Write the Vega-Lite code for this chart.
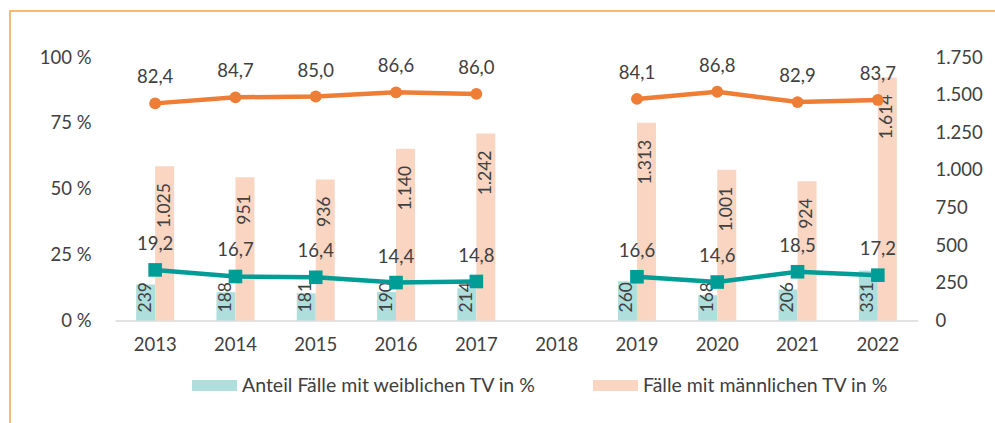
{
  "$schema": "https://vega.github.io/schema/vega-lite/v6.json",
  "width": 990,
  "height": 420,
  "autosize": {"type": "none"},
  "padding": {"left": 10, "top": 11, "right": 0, "bottom": 0},
  "background": "white",
  "config": {
    "locale": {"number": {"decimal": ",", "thousands": ".", "grouping": [3], "currency": ["", " €"]}},
    "view": {"stroke": "#F5A447", "strokeWidth": 1.5},
    "font": "Lato",
    "axis": {"labelFont": "Lato", "labelFontSize": 18.5, "labelColor": "#404040", "grid": false, "ticks": false, "tickSize": 0, "title": null, "domain": false},
    "text": {"font": "Lato", "fontSize": 18, "fill": "#404040"}
  },
  "datasets": {
    "counts": [
      {"year": "2013", "series": "Anteil Fälle mit weiblichen TV in %", "count": 239},
      {"year": "2014", "series": "Anteil Fälle mit weiblichen TV in %", "count": 188},
      {"year": "2015", "series": "Anteil Fälle mit weiblichen TV in %", "count": 181},
      {"year": "2016", "series": "Anteil Fälle mit weiblichen TV in %", "count": 190},
      {"year": "2017", "series": "Anteil Fälle mit weiblichen TV in %", "count": 214},
      {"year": "2019", "series": "Anteil Fälle mit weiblichen TV in %", "count": 260},
      {"year": "2020", "series": "Anteil Fälle mit weiblichen TV in %", "count": 168},
      {"year": "2021", "series": "Anteil Fälle mit weiblichen TV in %", "count": 206},
      {"year": "2022", "series": "Anteil Fälle mit weiblichen TV in %", "count": 331},
      {"year": "2013", "series": "Fälle mit männlichen TV in %", "count": 1025},
      {"year": "2014", "series": "Fälle mit männlichen TV in %", "count": 951},
      {"year": "2015", "series": "Fälle mit männlichen TV in %", "count": 936},
      {"year": "2016", "series": "Fälle mit männlichen TV in %", "count": 1140},
      {"year": "2017", "series": "Fälle mit männlichen TV in %", "count": 1242},
      {"year": "2019", "series": "Fälle mit männlichen TV in %", "count": 1313},
      {"year": "2020", "series": "Fälle mit männlichen TV in %", "count": 1001},
      {"year": "2021", "series": "Fälle mit männlichen TV in %", "count": 924},
      {"year": "2022", "series": "Fälle mit männlichen TV in %", "count": 1614}
    ],
    "pct": [
      {"year": "2013", "sex": "weiblich", "period": "a", "pct": 19.2},
      {"year": "2014", "sex": "weiblich", "period": "a", "pct": 16.7},
      {"year": "2015", "sex": "weiblich", "period": "a", "pct": 16.4},
      {"year": "2016", "sex": "weiblich", "period": "a", "pct": 14.4},
      {"year": "2017", "sex": "weiblich", "period": "a", "pct": 14.8},
      {"year": "2019", "sex": "weiblich", "period": "b", "pct": 16.6},
      {"year": "2020", "sex": "weiblich", "period": "b", "pct": 14.6},
      {"year": "2021", "sex": "weiblich", "period": "b", "pct": 18.5},
      {"year": "2022", "sex": "weiblich", "period": "b", "pct": 17.2},
      {"year": "2013", "sex": "männlich", "period": "a", "pct": 82.4},
      {"year": "2014", "sex": "männlich", "period": "a", "pct": 84.7},
      {"year": "2015", "sex": "männlich", "period": "a", "pct": 85.0},
      {"year": "2016", "sex": "männlich", "period": "a", "pct": 86.6},
      {"year": "2017", "sex": "männlich", "period": "a", "pct": 86.0},
      {"year": "2019", "sex": "männlich", "period": "b", "pct": 84.1},
      {"year": "2020", "sex": "männlich", "period": "b", "pct": 86.8},
      {"year": "2021", "sex": "männlich", "period": "b", "pct": 82.9},
      {"year": "2022", "sex": "männlich", "period": "b", "pct": 83.7}
    ]
  },
  "layer": [
    {
      "data": {"name": "counts"},
      "encoding": {
        "x": {
          "field": "year", "type": "nominal",
          "scale": {"domain": ["2013","2014","2015","2016","2017","2018","2019","2020","2021","2022"], "range": [105, 908], "paddingInner": 0.527, "paddingOuter": 0.2635},
          "axis": {"orient": "bottom", "offset": -110.5, "domain": true, "domainColor": "#D9D9D9", "domainWidth": 1.5, "labelAngle": 0, "labelPadding": 15}
        },
        "xOffset": {"field": "series", "type": "nominal", "scale": {"domain": ["Anteil Fälle mit weiblichen TV in %", "Fälle mit männlichen TV in %"], "paddingInner": 0, "paddingOuter": 0}}
      },
      "layer": [
        {
          "mark": {"type": "bar"},
          "encoding": {
            "y": {"field": "count", "type": "quantitative",
              "scale": {"domain": [0, 1750], "range": [309.5, 46], "nice": false, "zero": true},
              "axis": {"orient": "right", "values": [0, 250, 500, 750, 1000, 1250, 1500, 1750], "format": ",d", "offset": -65, "labelPadding": 0, "labelAlign": "left", "labelBaseline": "middle"}},
            "color": {"field": "series", "type": "nominal",
              "scale": {"domain": ["Anteil Fälle mit weiblichen TV in %", "Fälle mit männlichen TV in %"], "range": ["#AEDFDC", "#F9D5C2"]},
              "legend": {"orient": "none", "legendX": 182, "legendY": 352, "direction": "horizontal", "title": null,
                "symbolType": "M-1,-0.244H1V0.244H-1Z", "symbolSize": 2025, "symbolStrokeWidth": 0, "symbolOpacity": 1,
                "labelFont": "Lato", "labelFontSize": 19.5, "labelColor": "#404040", "labelOffset": 5, "columnPadding": 56, "padding": 0, "labelLimit": 600}}
          }
        },
        {
          "transform": [{"filter": "datum.series == 'Fälle mit männlichen TV in %'"}],
          "mark": {"type": "text", "angle": -90, "align": "right", "baseline": "middle", "dx": -17, "fontSize": 17.5},
          "encoding": {
            "y": {"field": "count", "type": "quantitative"},
            "text": {"field": "count", "type": "quantitative", "format": ",d"}
          }
        },
        {
          "transform": [{"filter": "datum.series == 'Anteil Fälle mit weiblichen TV in %'"}],
          "mark": {"type": "text", "angle": -90, "align": "left", "baseline": "middle", "dx": 8, "fontSize": 17.5},
          "encoding": {
            "y": {"datum": 0, "type": "quantitative"},
            "text": {"field": "count", "type": "quantitative", "format": ",d"}
          }
        }
      ]
    },
    {
      "data": {"name": "pct"},
      "encoding": {
        "x": {"field": "year", "type": "nominal",
          "scale": {"domain": ["2013","2014","2015","2016","2017","2018","2019","2020","2021","2022"], "range": [105, 908], "paddingInner": 0.527, "paddingOuter": 0.2635}},
        "y": {"field": "pct", "type": "quantitative",
          "scale": {"domain": [0, 100], "range": [309.5, 46], "nice": false, "zero": true},
          "axis": {"orient": "left", "values": [0, 25, 50, 75, 100], "labelExpr": "datum.value + ' %'", "offset": -81, "labelPadding": 0, "labelAlign": "right", "labelBaseline": "middle"}},
        "color": {"field": "sex", "type": "nominal", "scale": {"domain": ["weiblich", "männlich"], "range": ["#009C96", "#EE7D35"]}, "legend": null}
      },
      "layer": [
        {
          "mark": {"type": "line", "strokeWidth": 4.5},
          "encoding": {"detail": {"field": "period", "type": "nominal"}}
        },
        {
          "mark": {"type": "point", "filled": true, "opacity": 1},
          "encoding": {
            "shape": {"field": "sex", "type": "nominal", "scale": {"domain": ["weiblich", "männlich"], "range": ["square", "circle"]}, "legend": null},
            "size": {"field": "sex", "type": "nominal", "scale": {"domain": ["weiblich", "männlich"], "range": [185, 140]}, "legend": null}
          }
        },
        {
          "mark": {"type": "text", "dy": -26, "baseline": "middle", "align": "center", "fontSize": 18.5},
          "encoding": {
            "text": {"field": "pct", "type": "quantitative", "format": ".1f"},
            "color": {"value": "#404040"}
          }
        }
      ]
    }
  ],
  "resolve": {"scale": {"y": "independent", "color": "independent"}}
}
